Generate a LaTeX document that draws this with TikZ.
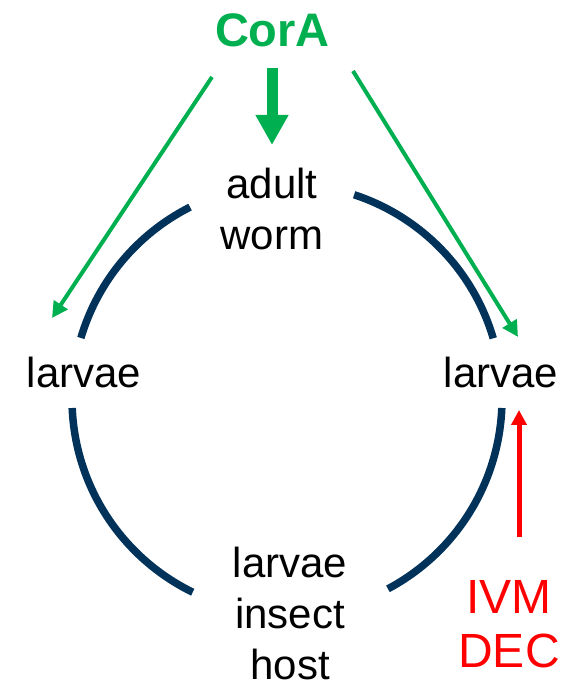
\documentclass[tikz,border=0pt]{standalone}
\usepackage{fontspec}
\setmainfont{Liberation Sans}
\usetikzlibrary{arrows.meta}
\definecolor{cgreen}{RGB}{0,176,80}
\definecolor{cnavy}{RGB}{0,50,90}
\definecolor{cred}{RGB}{255,0,0}
\begin{document}
\begin{tikzpicture}[x=1pt,y=1pt,
  lbl/.style={inner sep=0pt,anchor=base,align=center,font=\fontsize{42}{51}\selectfont},
  cycle/.style={draw=cnavy,line width=7.5pt},
  thinarrow/.style={draw=cgreen,line width=4pt,-{Triangle[length=16pt,width=16pt]}},
  bigarrow/.style={draw=cgreen,line width=11pt,-{Triangle[length=30pt,width=31pt]}},
  redarrow/.style={draw=cred,line width=5pt,-{Triangle[length=15pt,width=15pt]}}]
\useasboundingbox (0,0) rectangle (574,682);
\fill[white] (0,0) rectangle (574,682);
% cycle arcs
\coordinate (c) at (287,283);
\draw[cycle] (c) ++(16.4:215) arc[start angle=16.4,end angle=71.8,radius=215];
\draw[cycle] (c) ++(116.8:215) arc[start angle=116.8,end angle=163.5,radius=215];
\draw[cycle] (c) ++(182.4:215) arc[start angle=182.4,end angle=244,radius=215];
\draw[cycle] (c) ++(298:215) arc[start angle=298,end angle=357.6,radius=215];
% labels (base anchor = baseline of last line)
\node[lbl,text=cgreen,font=\fontsize{47}{56}\selectfont\bfseries] (cora) at (272.5,635.5) {CorA};
\node[lbl] (adult) at (272,432) {adult\\worm};
\node[lbl] (lleft) at (84,294) {larvae};
\node[lbl] (lright) at (501,294) {larvae};
\node[lbl] (host) at (290,2) {larvae\\insect\\host};
\node[lbl,text=cred,font=\fontsize{48}{55}\selectfont] (drug) at (509,14) {IVM\\DEC};
% arrows
\coordinate (gl0) at (212,605);
\coordinate (gl1) at (52,364);
\coordinate (gr0) at (353,611);
\coordinate (gr1) at (518,345);
\coordinate (gm0) at (272,614);
\coordinate (gm1) at (272,537);
\coordinate (r0) at (519,145);
\coordinate (r1) at (519,272);
\draw[thinarrow] (gl0) -- (gl1);
\draw[thinarrow] (gr0) -- (gr1);
\draw[bigarrow] (gm0) -- (gm1);
\draw[redarrow] (r0) -- (r1);
\end{tikzpicture}
\end{document}
